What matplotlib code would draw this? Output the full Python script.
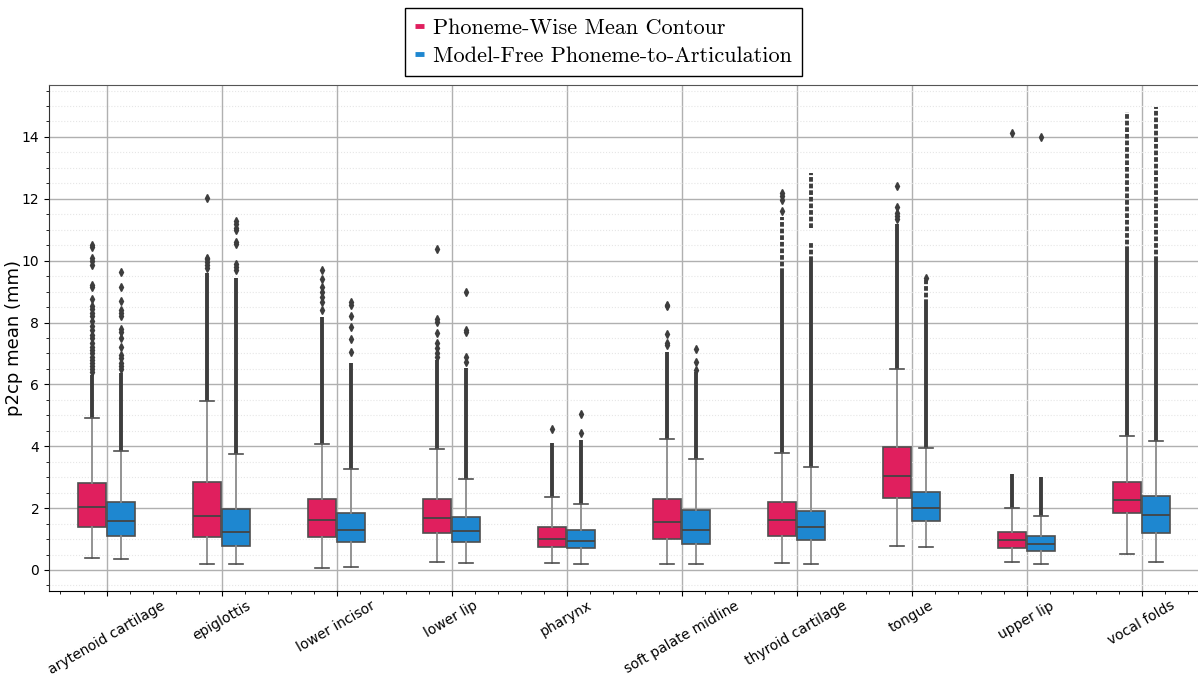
import matplotlib
matplotlib.use("Agg")
import matplotlib.pyplot as plt
from matplotlib.lines import Line2D
from matplotlib.ticker import MultipleLocator

categories = ["arytenoid cartilage", "epiglottis", "lower incisor", "lower lip", "pharynx",
              "soft palate midline", "thyroid cartilage", "tongue", "upper lip", "vocal folds"]
series_names = ["Phoneme-Wise Mean Contour", "Model-Free Phoneme-to-Articulation"]

# Phoneme-Wise Mean Contour box statistics
pw_q1 = [1.40, 1.06, 1.08, 1.19, 0.75, 0.99, 1.11, 2.32, 0.72, 1.84]
pw_med = [2.05, 1.76, 1.61, 1.67, 1.00, 1.54, 1.62, 3.04, 0.97, 2.27]
pw_q3 = [2.80, 2.83, 2.29, 2.29, 1.40, 2.30, 2.19, 3.99, 1.24, 2.85]
pw_lo = [0.40, 0.18, 0.05, 0.27, 0.23, 0.19, 0.22, 0.79, 0.25, 0.51]
pw_hi = [4.90, 5.47, 4.07, 3.92, 2.35, 4.24, 3.79, 6.49, 1.99, 4.33]
# packed flier runs (from, to), loosely packed runs, and isolated fliers
pw_dense = [[(4.90, 6.30)], [(5.47, 9.60)], [(4.07, 8.19)], [(3.92, 6.80)], [(2.35, 4.10)],
            [(4.24, 7.05)], [(3.79, 9.60)], [(6.49, 11.20)], [(1.99, 3.10)], [(4.33, 10.30)]]
pw_loose = [[], [], [], [], [], [], [(9.60, 11.40)], [], [], [(10.30, 14.82)]]
pw_fliers = [[10.5, 10.45, 10.1, 10.0, 9.85, 9.2, 9.15, 8.75, 8.55, 8.45, 8.3, 8.2, 8.05, 7.9,
              7.75, 7.6, 7.5, 7.35, 7.2, 7.1, 7.0, 6.9, 6.8, 6.7, 6.6, 6.5, 6.4],
             [12.02, 10.1, 10.05, 9.95, 9.85, 9.75],
             [9.70, 9.40, 9.16, 9.0, 8.84, 8.68, 8.39],
             [10.38, 8.10, 8.02, 7.65, 7.33, 7.17, 7.01, 6.90],
             [4.56],
             [8.57, 8.55, 7.63, 7.35, 7.28],
             [12.18, 12.10, 11.95, 11.6],
             [12.43, 11.75, 11.55, 11.45, 11.35],
             [14.12],
             []]

# Model-Free Phoneme-to-Articulation box statistics
mf_q1 = [1.11, 0.79, 0.90, 0.90, 0.72, 0.83, 0.97, 1.59, 0.62, 1.20]
mf_med = [1.58, 1.24, 1.28, 1.25, 0.95, 1.29, 1.38, 1.99, 0.84, 1.78]
mf_q3 = [2.21, 1.96, 1.83, 1.72, 1.29, 1.94, 1.91, 2.53, 1.10, 2.38]
mf_lo = [0.36, 0.19, 0.09, 0.24, 0.19, 0.19, 0.18, 0.75, 0.19, 0.25]
mf_hi = [3.86, 3.75, 3.26, 2.93, 2.13, 3.58, 3.32, 3.95, 1.75, 4.18]
mf_dense = [[(3.86, 6.37)], [(3.75, 9.44)], [(3.26, 6.68)], [(2.93, 6.52)], [(2.13, 4.20)],
            [(3.58, 6.40)], [(3.32, 10.00)], [(3.95, 8.60)], [(1.75, 3.00)], [(4.18, 10.00)]]
mf_loose = [[], [], [], [], [], [], [(10.00, 10.62), (11.05, 12.85)], [(8.60, 9.43)], [],
            [(10.00, 14.98)]]
mf_fliers = [[9.65, 9.15, 8.7, 8.4, 8.3, 8.2, 7.8, 7.7, 7.5, 7.2, 6.95, 6.85, 6.7, 6.6, 6.5],
             [11.28, 11.2, 11.05, 11.0, 10.6, 10.55, 9.9, 9.8, 9.7],
             [8.68, 8.57, 8.22, 7.87, 7.48, 7.05],
             [9.0, 7.76, 7.68, 6.90, 6.74],
             [5.03, 4.44],
             [7.14, 6.71, 6.45],
             [],
             [9.43],
             [14.01],
             []]

colors = ["#E01F5E", "#1E87D0"]
flier_color = "#3d3d3d"

fig = plt.figure(figsize=(11.98, 6.75), dpi=100)
ax = fig.add_axes([49 / 1198, 84 / 675, 1150 / 1198, 506 / 675])

offset = 0.125
width = 0.245
groups = [
    (pw_q1, pw_med, pw_q3, pw_lo, pw_hi, pw_fliers, pw_dense, pw_loose, -offset, colors[0]),
    (mf_q1, mf_med, mf_q3, mf_lo, mf_hi, mf_fliers, mf_dense, mf_loose, offset, colors[1]),
]
for q1, med, q3, lo, hi, fl, dense, loose, off, col in groups:
    stats = []
    for i in range(len(categories)):
        stats.append(dict(med=med[i], q1=q1[i], q3=q3[i], whislo=lo[i], whishi=hi[i], fliers=fl[i]))
    pos = [i + off for i in range(len(categories))]
    for i, runs in enumerate(dense):
        for a, b in runs:
            ax.vlines(pos[i], a, b, colors=flier_color, linewidth=2.8, zorder=2.5)
    for i, runs in enumerate(loose):
        for a, b in runs:
            ax.vlines(pos[i], a, b, colors=flier_color, linewidth=2.8, zorder=2.5,
                      linestyles=[(0, (1.2, 0.5))])
    ax.bxp(stats, positions=pos, widths=width, patch_artist=True, manage_ticks=False,
           boxprops=dict(facecolor=col, edgecolor="#4f4f4f", linewidth=1.2),
           whiskerprops=dict(color="#8a8a8a", linewidth=1.3),
           capprops=dict(color="#4f4f4f", linewidth=1.2),
           medianprops=dict(color="#444444", linewidth=1.3),
           flierprops=dict(marker="d", markerfacecolor=flier_color, markeredgecolor=flier_color,
                           markersize=3.8, linestyle="none"),
           zorder=3)

ax.set_xlim(-0.5, len(categories) - 0.5)
ax.set_ylim(-0.68, 15.68)
ax.set_xticks(range(len(categories)))
ax.set_xticklabels(categories, rotation=30, ha="center", fontsize=10)
ax.tick_params(axis="x", pad=2)
ax.xaxis.set_minor_locator(MultipleLocator(0.2))
ax.yaxis.set_major_locator(MultipleLocator(2))
ax.yaxis.set_minor_locator(MultipleLocator(0.5))
ax.tick_params(axis="y", labelsize=10)
ax.set_ylabel("p2cp mean (mm)", fontsize=13)
ax.yaxis.set_label_coords((23 - 49) / 1150, 0.5)
ax.set_axisbelow(True)
ax.grid(which="major", color="#b0b0b0", linewidth=1.0)
ax.grid(which="minor", axis="y", color="#e6e6e6", linewidth=0.8, linestyle=":")
ax.spines["left"].set_color("#333333")
ax.spines["bottom"].set_color("#000000")
ax.spines["top"].set_color("#555555")
ax.spines["right"].set_visible(False)

handles = [Line2D([], [], color=c, linewidth=3.5, solid_capstyle="butt") for c in colors]
leg = fig.legend(handles, series_names, loc="upper center", bbox_to_anchor=(0.5035, 0.988),
                 borderaxespad=0,
                 prop={"family": "cmr10", "size": 16}, handlelength=0.4, handletextpad=0.4,
                 frameon=True, fancybox=False, framealpha=1, edgecolor="black",
                 borderpad=0.45, labelspacing=0.4)
leg.get_frame().set_linewidth(1.0)

fig.savefig("out.png", dpi=100)
